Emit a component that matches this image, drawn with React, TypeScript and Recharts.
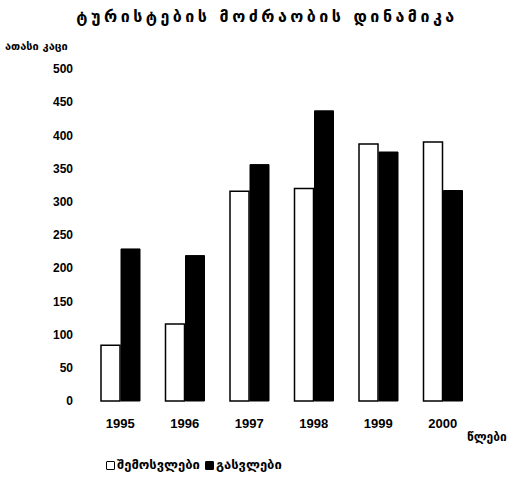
import React from "react";
import { BarChart, Bar, XAxis, YAxis, Legend, Customized } from "recharts";

const years = ["1995", "1996", "1997", "1998", "1999", "2000"];
const arrivals = [84, 116, 316, 320, 387, 390];
const departures = [229, 219, 356, 437, 375, 317];
const yTicks = [0, 50, 100, 150, 200, 250, 300, 350, 400, 450, 500];

const title = "ტურისტების მოძრაობის დინამიკა";
const yUnit = "ათასი კაცი";
const xUnit = "წლები";
const arrivalsName = "შემოსვლები";
const departuresName = "გასვლები";
const seriesOrder = ["arrivals", "departures"];

const data = years.map((y, i) => ({ year: y, arrivals: arrivals[i], departures: departures[i] }));

const GEO = "'DejaVu Sans', sans-serif";
const NUM = "'Liberation Sans', 'DejaVu Sans', sans-serif";

const LegendContent = (props: any) => {
  const payload = [...(props.payload || [])].sort(
    (a: any, b: any) => seriesOrder.indexOf(a.dataKey) - seriesOrder.indexOf(b.dataKey)
  );
  return (
    <div style={{ display: "flex", alignItems: "center", fontFamily: GEO, fontWeight: "bold", fontSize: 13, color: "#000", lineHeight: "14px" }}>
      {payload.map((p: any, i: number) => (
        <div key={i} style={{ display: "flex", alignItems: "center", marginRight: 5 }}>
          <span
            style={{
              display: "inline-block",
              boxSizing: "border-box",
              width: 9,
              height: 9,
              border: "1.5px solid #000",
              borderRadius: 1,
              background: p.dataKey === "arrivals" ? "#fff" : "#000",
              marginRight: 2,
            }}
          />
          <span>{p.value}</span>
        </div>
      ))}
    </div>
  );
};

const Texts = () => (
  <g>
    <text x={267} y={22} textAnchor="middle" fontFamily={GEO} fontWeight="bold" fontSize={16} letterSpacing={3.5} fill="#000">
      {title}
    </text>
    <text x={5} y={50} fontFamily={GEO} fontWeight="bold" fontSize={11} fill="#000">
      {yUnit}
    </text>
    <text x={467} y={441} fontFamily={GEO} fontWeight="bold" fontSize={12} fill="#000">
      {xUnit}
    </text>
  </g>
);

export default function App() {
  return (
    <div style={{ position: "absolute", left: 0, top: 0, width: 512, height: 478, background: "#fff" }}>
      <BarChart
        width={512}
        height={478}
        data={data}
        margin={{ top: 69, right: 37, bottom: 47, left: 28 }}
        barSize={19}
        barGap={1}
      >
        <XAxis
          dataKey="year"
          axisLine={false}
          tickLine={false}
          tickSize={0}
          tickMargin={18}
          height={30}
          tick={{ fill: "#000", fontFamily: NUM, fontWeight: "bold", fontSize: 13 }}
        />
        <YAxis
          domain={[0, 500]}
          ticks={yTicks}
          interval={0}
          axisLine={false}
          tickLine={false}
          tickSize={0}
          tickMargin={15}
          width={60}
          tick={{ fill: "#000", fontFamily: NUM, fontWeight: "bold", fontSize: 12 }}
        />
        <Bar dataKey="arrivals" name={arrivalsName} fill="#fff" stroke="#000" strokeWidth={1.5} isAnimationActive={false} />
        <Bar dataKey="departures" name={departuresName} fill="#000" stroke="#000" strokeWidth={1} isAnimationActive={false} />
        <Legend
          layout="horizontal"
          verticalAlign="middle"
          align="center"
          content={<LegendContent />}
          wrapperStyle={{ top: 458, left: 106, width: "auto" }}
        />
        <Customized component={Texts} />
      </BarChart>
    </div>
  );
}
